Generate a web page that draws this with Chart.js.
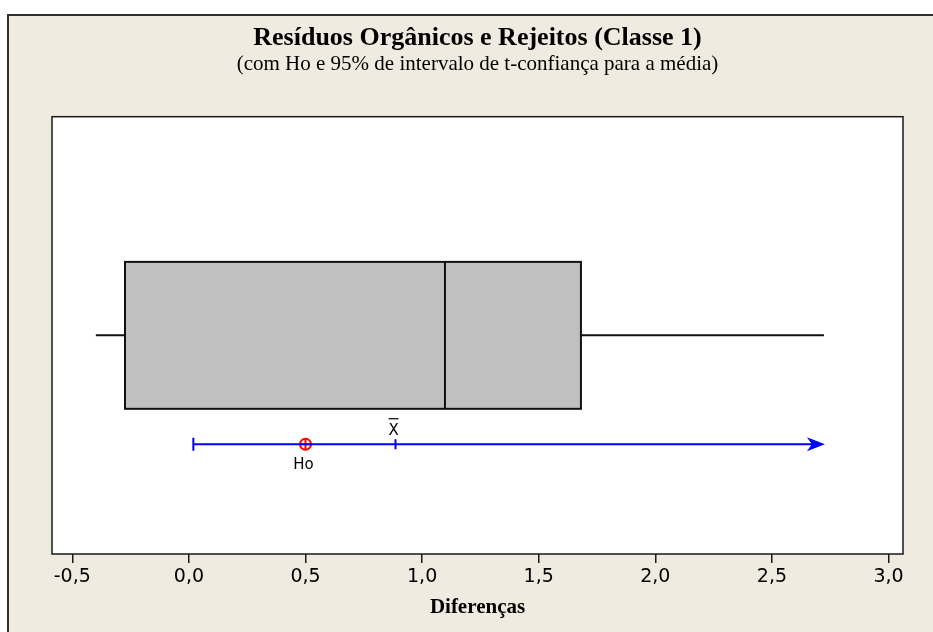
<!DOCTYPE html>
<html>
<head>
<meta charset="utf-8">
<script src="https://cdn.jsdelivr.net/npm/chart.js@4"></script>
<style>
  html, body { margin: 0; padding: 0; background: #ffffff; }
  #c { display: block; }
</style>
</head>
<body>
<canvas id="c" width="933" height="632"></canvas>
<script>
// Five-number summary of the differences: min, Q1, median, Q3, max
const boxStats = [-0.399, -0.274, 1.098, 1.681, 2.723];
// One-sided 95% t-interval: lower bound, sample mean, end of the arrow
const ciValues = [0.019, 0.886, 2.723];
// Hypothesised mean
const h0Value = [0.5];
// Vertical placement (hidden unit axis): box centre, box half-height, interval row
const rowLevels = [0.5, 0.168, 0.251];
// x-axis ticks
const tickValues = [-0.5, 0.0, 0.5, 1.0, 1.5, 2.0, 2.5, 3.0];
const tickLabels = ['-0,5', '0,0', '0,5', '1,0', '1,5', '2,0', '2,5', '3,0'];

const BLUE = '#0000ff';
const RED = '#ff0000';
const BEIGE = '#efebe1';

const [wMin, q1, med, q3, wMax] = boxStats;
const [ciLow, ciMean, ciEnd] = ciValues;
const [boxMid, boxHalf, ciRow] = rowLevels;

// Page frame: beige panel with a dark edge on top and left
const framePlugin = {
  id: 'frame',
  beforeDraw(chart) {
    const ctx = chart.ctx;
    ctx.save();
    ctx.fillStyle = '#ffffff';
    ctx.fillRect(0, 0, chart.width, chart.height);
    ctx.fillStyle = BEIGE;
    ctx.fillRect(7, 14, chart.width - 7, chart.height - 14);
    ctx.strokeStyle = '#303030';
    ctx.lineWidth = 2;
    ctx.beginPath();
    ctx.moveTo(chart.width, 15);
    ctx.lineTo(8, 15);
    ctx.lineTo(8, chart.height);
    ctx.stroke();
    const a = chart.chartArea;
    ctx.fillStyle = '#ffffff';
    ctx.fillRect(a.left, a.top, a.right - a.left, a.bottom - a.top);
    ctx.restore();
  },
  afterDraw(chart) {
    const ctx = chart.ctx;
    const a = chart.chartArea;
    ctx.save();
    ctx.strokeStyle = '#1a1a1a';
    ctx.lineWidth = 1.5;
    ctx.strokeRect(a.left, a.top, a.right - a.left, a.bottom - a.top);
    ctx.restore();
  }
};

// Box of the boxplot, drawn on the chart's scales
const boxPlugin = {
  id: 'boxBody',
  beforeDatasetsDraw(chart) {
    const x = chart.scales.x, y = chart.scales.y;
    const ctx = chart.ctx;
    const left = x.getPixelForValue(q1);
    const right = x.getPixelForValue(q3);
    const top = y.getPixelForValue(boxMid + boxHalf);
    const bottom = y.getPixelForValue(boxMid - boxHalf);
    const m = x.getPixelForValue(med);
    ctx.save();
    ctx.fillStyle = '#c0c0c0';
    ctx.fillRect(left, top, right - left, bottom - top);
    ctx.strokeStyle = '#111111';
    ctx.lineWidth = 2;
    ctx.strokeRect(left, top, right - left, bottom - top);
    ctx.beginPath();
    ctx.moveTo(m, top);
    ctx.lineTo(m, bottom);
    ctx.stroke();
    ctx.restore();
  },
  afterDatasetsDraw(chart) {
    const x = chart.scales.x, y = chart.scales.y;
    const ctx = chart.ctx;
    const ex = x.getPixelForValue(ciEnd);
    const ey = y.getPixelForValue(ciRow);
    ctx.save();
    // arrow head at the open end of the interval
    ctx.fillStyle = BLUE;
    ctx.beginPath();
    ctx.moveTo(ex + 1, ey);
    ctx.lineTo(ex - 17, ey - 7);
    ctx.lineTo(ex - 12, ey);
    ctx.lineTo(ex - 17, ey + 7);
    ctx.closePath();
    ctx.fill();
    // labels for the mean and the hypothesised value
    ctx.fillStyle = '#000000';
    ctx.font = '15px "DejaVu Sans"';
    ctx.textAlign = 'center';
    ctx.textBaseline = 'alphabetic';
    const mx = x.getPixelForValue(ciMean);
    ctx.fillText('X', mx - 2, ey - 9);
    ctx.strokeStyle = '#000000';
    ctx.lineWidth = 1.2;
    ctx.beginPath();
    ctx.moveTo(mx - 7, ey - 25.5);
    ctx.lineTo(mx + 3, ey - 25.5);
    ctx.stroke();
    const hx = x.getPixelForValue(h0Value[0]);
    ctx.fillText('Ho', hx - 2, ey + 25);
    ctx.restore();
  }
};

const chart = new Chart(document.getElementById('c'), {
  type: 'scatter',
  data: {
    datasets: [
      {
        // lower whisker
        data: [{ x: wMin, y: boxMid }, { x: q1, y: boxMid }],
        showLine: true, borderColor: '#111111', borderWidth: 2, pointRadius: 0
      },
      {
        // upper whisker
        data: [{ x: q3, y: boxMid }, { x: wMax, y: boxMid }],
        showLine: true, borderColor: '#111111', borderWidth: 2, pointRadius: 0
      },
      {
        // confidence interval line
        data: [{ x: ciLow, y: ciRow }, { x: ciEnd - 0.03, y: ciRow }],
        showLine: true, borderColor: BLUE, borderWidth: 2, pointRadius: 0
      },
      {
        // end tick at the lower bound and tick at the mean
        data: [{ x: ciLow, y: ciRow }, { x: ciMean, y: ciRow }],
        showLine: false, pointStyle: 'line', rotation: 90,
        pointRadius: [6.5, 5], borderColor: BLUE, borderWidth: 2,
        backgroundColor: BLUE
      },
      {
        // hypothesised mean: circle
        data: [{ x: h0Value[0], y: ciRow }],
        showLine: false, pointStyle: 'circle', pointRadius: 5.5,
        borderColor: RED, borderWidth: 2, backgroundColor: 'rgba(0,0,0,0)'
      },
      {
        // hypothesised mean: cross
        data: [{ x: h0Value[0], y: ciRow }],
        showLine: false, pointStyle: 'cross', pointRadius: 5.5,
        borderColor: RED, borderWidth: 2
      }
    ]
  },
  options: {
    responsive: false,
    animation: false,
    events: [],
    layout: { padding: { left: 52, right: 30, top: 0, bottom: 0 } },
    plugins: {
      legend: { display: false },
      tooltip: { enabled: false },
      title: {
        display: true,
        fullSize: false,
        text: 'Resíduos Orgânicos e Rejeitos (Classe 1)',
        color: '#000000',
        font: { family: '"Liberation Serif", "Times New Roman", serif', size: 26, weight: 'bold', lineHeight: 1.1 },
        padding: { top: 24, bottom: 0 }
      },
      subtitle: {
        display: true,
        fullSize: false,
        text: '(com Ho e 95% de intervalo de t-confiança para a média)',
        color: '#000000',
        font: { family: '"Liberation Serif", "Times New Roman", serif', size: 21, lineHeight: 1.1 },
        padding: { top: 0, bottom: 41 }
      }
    },
    scales: {
      x: {
        type: 'linear',
        min: -0.587,
        max: 3.062,
        afterBuildTicks(scale) {
          scale.ticks = tickValues.map(v => ({ value: v }));
        },
        afterFit(scale) {
          scale.height = 78;
        },
        grid: {
          display: true,
          drawOnChartArea: false,
          drawTicks: true,
          tickLength: 9,
          color: '#1a1a1a',
          lineWidth: 1.5
        },
        border: { display: false },
        ticks: {
          color: '#000000',
          font: { family: '"DejaVu Sans", sans-serif', size: 19 },
          padding: 3,
          maxRotation: 0,
          autoSkip: false,
          callback(value, index) { return tickLabels[index]; }
        },
        title: {
          display: true,
          text: 'Diferenças',
          color: '#000000',
          font: { family: '"Liberation Serif", "Times New Roman", serif', size: 21, weight: 'bold', lineHeight: 1.1 },
          padding: { top: 2, bottom: 13 }
        }
      },
      y: {
        type: 'linear',
        display: false,
        min: 0,
        max: 1
      }
    }
  },
  plugins: [framePlugin, boxPlugin]
});
</script>
</body>
</html>
